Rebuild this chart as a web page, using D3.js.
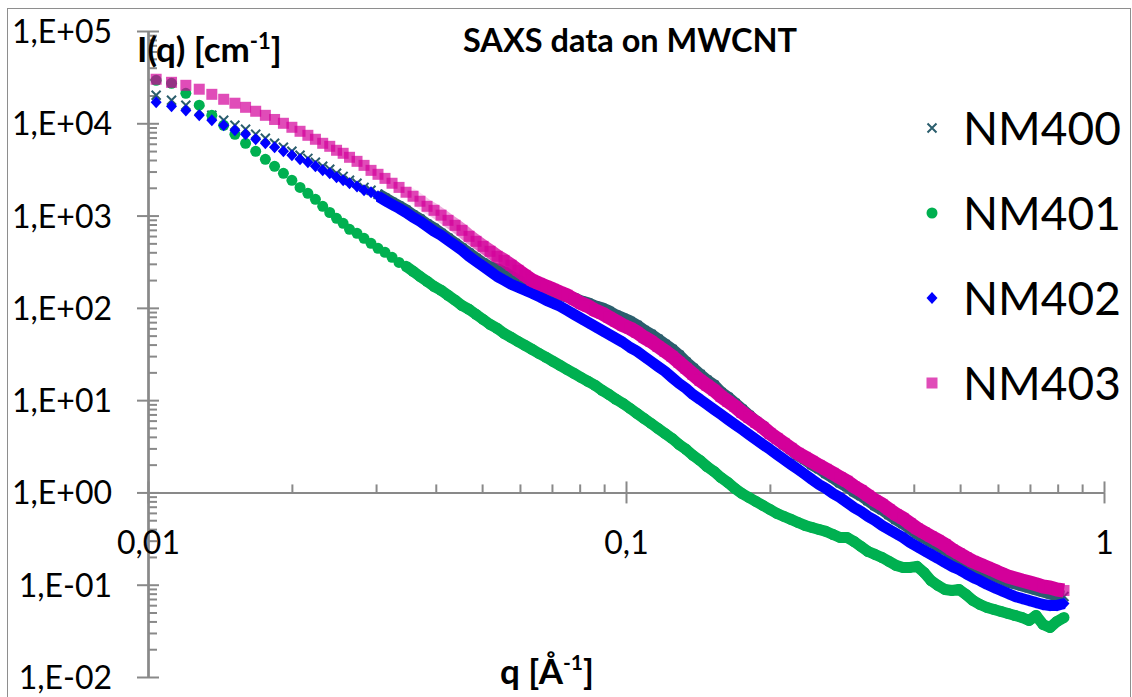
<!DOCTYPE html>
<html>
<head>
<meta charset="utf-8">
<script src="https://cdn.jsdelivr.net/npm/d3@7"></script>
<style>
  body { margin: 0; background: #fff; }
  text { font-family: Lato, "Open Sans", sans-serif; fill: #000; }
</style>
</head>
<body>
<div id="chart"></div>
<script>
// q [1/A]
var q = [0.0104, 0.0112, 0.0120, 0.0128, 0.0136, 0.0144, 0.0152, 0.0160, 0.0168, 0.0176,
  0.0184, 0.0192, 0.0200, 0.0208, 0.0216, 0.0224, 0.0232, 0.0240, 0.0248, 0.0256, 0.0264,
  0.02737, 0.02831, 0.02928, 0.03028, 0.03132, 0.03240, 0.03351, 0.03466, 0.03585, 0.03707,
  0.03835, 0.03966, 0.04103, 0.04243, 0.04389, 0.04539, 0.04695, 0.04856, 0.05023, 0.05195,
  0.05373, 0.05557, 0.05748, 0.05945, 0.06149, 0.06360, 0.06578, 0.06803, 0.07037, 0.07278,
  0.07527, 0.07785, 0.08052, 0.08328, 0.08614, 0.08909, 0.09215, 0.09531, 0.09858, 0.10196,
  0.10545, 0.10907, 0.11281, 0.11668, 0.12068, 0.12482, 0.12910, 0.13352, 0.13810, 0.14284,
  0.1477, 0.1528, 0.1580, 0.1634, 0.1690, 0.1748, 0.1808, 0.1870, 0.1934, 0.2001,
  0.2070, 0.2141, 0.2214, 0.2290, 0.2369, 0.2450, 0.2534, 0.2621, 0.2711, 0.2804,
  0.2900, 0.2999, 0.3102, 0.3209, 0.3319, 0.3433, 0.3550, 0.3672, 0.3798, 0.3928,
  0.4062, 0.4201, 0.4345, 0.4495, 0.4649, 0.4808, 0.4973, 0.5143, 0.5320, 0.5502,
  0.5692, 0.5887, 0.6089, 0.6298, 0.6514, 0.6737, 0.6968, 0.7207, 0.7455, 0.7710,
  0.7974, 0.8247];

// I(q) [1/cm]
var nm400 = [20100, 17800, 15700, 13800, 12200, 10800, 9510, 8610, 7600, 6880,
  6070, 5490, 4970, 4500, 4170, 3780, 3420, 3170, 2870, 2660, 2410,
  2240, 2020, 1880, 1700, 1540, 1390, 1260, 1140, 1010, 911,
  804, 727, 642, 567, 500, 442, 390, 344, 304, 275,
  261, 243, 219, 199, 180, 163, 155, 151, 144, 140,
  133, 127, 118, 112, 104, 98.8, 91.6, 82.9, 76.9, 71.4,
  64.6, 57.0, 51.6, 45.6, 40.2, 35.5, 30.6, 25.7, 22.1, 19.0,
  16.4, 14.5, 12.1, 10.7, 9.22, 7.94, 6.83, 5.88, 5.19, 4.36,
  3.85, 3.31, 2.93, 2.52, 2.28, 2.01, 1.82, 1.61, 1.45, 1.28,
  1.16, 1.025, 0.928, 0.819, 0.723, 0.654, 0.577, 0.510, 0.461, 0.407,
  0.359, 0.325, 0.294, 0.266, 0.241, 0.213, 0.193, 0.174, 0.158, 0.146,
  0.136, 0.126, 0.117, 0.108, 0.103, 0.0981, 0.0934, 0.0888, 0.0845, 0.0804,
  0.0765, 0.0746];

var nm401 = [29200, 27100, 21100, 15700, 12200, 9510, 7600, 6070, 4970, 4070,
  3420, 2870, 2410, 2020, 1740, 1500, 1260, 1080, 934, 824, 710,
  642, 567, 500, 442, 400, 353, 311, 282, 249, 219,
  194, 171, 155, 137, 121, 106, 96.3, 85.0, 75.0, 66.2,
  60.0, 52.9, 47.9, 43.3, 39.2, 35.5, 32.1, 29.1, 26.3, 23.8,
  21.5, 19.5, 17.6, 16.0, 14.5, 12.8, 11.5, 10.2, 9.22, 8.14,
  7.18, 6.34, 5.60, 4.94, 4.36, 3.85, 3.31, 2.93, 2.52, 2.22,
  1.91, 1.69, 1.45, 1.28, 1.105, 0.975, 0.883, 0.799, 0.723, 0.654,
  0.592, 0.549, 0.510, 0.473, 0.439, 0.417, 0.397, 0.378, 0.350, 0.325,
  0.325, 0.294, 0.260, 0.229, 0.213, 0.197, 0.179, 0.162, 0.154, 0.154,
  0.158, 0.136, 0.111, 0.0981, 0.0888, 0.0866, 0.0888, 0.0784, 0.0675, 0.0611,
  0.0567, 0.0539, 0.0513, 0.0488, 0.0464, 0.0442, 0.0410, 0.0464, 0.0371, 0.0344,
  0.0400, 0.0442];

var nm402 = [16900, 15300, 13800, 12200, 10800, 9510, 8400, 7600, 6710, 6070,
  5490, 4970, 4500, 4070, 3780, 3420, 3090, 2870, 2600, 2410, 2240,
  2070, 1880, 1790, 1620, 1460, 1320, 1200, 1080, 957, 866,
  765, 675, 611, 539, 476, 420, 362, 319, 282, 249,
  219, 199, 180, 167, 155, 144, 133, 121, 112, 104,
  94.0, 85.0, 76.9, 69.6, 63.0, 57.0, 51.6, 46.7, 42.3, 37.3,
  33.8, 29.8, 26.3, 23.2, 20.5, 17.6, 15.2, 13.4, 11.5, 10.2,
  8.99, 7.94, 7.01, 6.18, 5.46, 4.82, 4.25, 3.75, 3.31, 2.93,
  2.58, 2.28, 2.01, 1.78, 1.57, 1.38, 1.22, 1.105, 0.975, 0.883,
  0.779, 0.688, 0.622, 0.549, 0.497, 0.439, 0.397, 0.359, 0.325, 0.287,
  0.260, 0.235, 0.213, 0.193, 0.174, 0.158, 0.146, 0.132, 0.120, 0.111,
  0.101, 0.0934, 0.0866, 0.0804, 0.0746, 0.0710, 0.0675, 0.0642, 0.0611, 0.0596,
  0.0596, 0.0626];

var nm403 = [30000, 27800, 25800, 23400, 20600, 18200, 16500, 14900, 13500, 12200,
  11000, 10000, 9050, 8190, 7410, 6710, 6070, 5630, 5100, 4730, 4280,
  3870, 3500, 3090, 2800, 2530, 2240, 2020, 1790, 1620, 1430,
  1260, 1140, 1010, 888, 784, 692, 596, 526, 464, 410,
  362, 327, 289, 255, 225, 199, 184, 171, 159, 147,
  137, 124, 112, 104, 94.0, 87.2, 78.9, 71.4, 64.6, 60.0,
  54.2, 47.9, 43.3, 38.2, 33.8, 29.8, 25.7, 22.1, 19.0, 16.4,
  14.5, 12.8, 11.0, 9.69, 8.55, 7.37, 6.50, 5.74, 5.07, 4.36,
  3.85, 3.40, 3.00, 2.65, 2.40, 2.17, 1.96, 1.78, 1.61, 1.45,
  1.32, 1.16, 1.05, 0.928, 0.819, 0.741, 0.654, 0.577, 0.523, 0.461,
  0.407, 0.368, 0.333, 0.302, 0.273, 0.241, 0.218, 0.197, 0.179, 0.166,
  0.154, 0.143, 0.132, 0.123, 0.117, 0.111, 0.106, 0.101, 0.0957, 0.0934,
  0.0888, 0.0866];

var seriesNames = ["NM400", "NM401", "NM402", "NM403"];
var yTicks = [1e-2, 1e-1, 1, 10, 100, 1e3, 1e4, 1e5];
var yTickLabels = ["1,E-02", "1,E-01", "1,E+00", "1,E+01", "1,E+02", "1,E+03", "1,E+04", "1,E+05"];
var xTicks = [0.01, 0.1, 1];
var xTickLabels = ["0,01", "0,1", "1"];

var width = 1132, height = 697;
var axisColor = "#898989";

var svg = d3.select("#chart")
  .append("svg")
    .attr("width", width)
    .attr("height", height);

svg.append("rect")
  .attr("x", 7.5).attr("y", 8.5)
  .attr("width", 1123).attr("height", 720)
  .attr("fill", "#fff")
  .attr("stroke", "#8e8e8e")
  .attr("stroke-width", 1);

var x = d3.scaleLog().domain([0.01, 1]).range([148, 1104]);
var y = d3.scaleLog().domain([0.01, 1e5]).range([677, 31]);

// minor tick positions (2..9 in every decade)
var yMinor = [];
yTicks.slice(0, -1).forEach(function (d) {
  for (var k = 2; k < 10; k++) yMinor.push(d * k);
});
var xMinor = [];
xTicks.slice(0, -1).forEach(function (d) {
  for (var k = 2; k < 10; k++) xMinor.push(d * k);
});

function styleAxis(g) {
  g.selectAll("path, line").attr("stroke", axisColor).attr("stroke-width", 2);
  g.selectAll("text").style("font-size", "32px").attr("fill", "#000");
}

// y axis
var yAxis = svg.append("g")
  .attr("transform", "translate(148,0)")
  .call(d3.axisLeft(y).tickValues(yTicks)
    .tickFormat(function (d, i) { return yTickLabels[i]; })
    .tickSizeInner(11).tickSizeOuter(0).tickPadding(25));
yAxis.call(styleAxis);
yAxis.selectAll("text").attr("dy", "0.36em");

svg.append("g")
  .attr("transform", "translate(148,0)")
  .call(d3.axisRight(y).tickValues(yTicks).tickFormat("").tickSizeInner(11).tickSizeOuter(0))
  .call(styleAxis);
svg.append("g")
  .attr("transform", "translate(148,0)")
  .call(d3.axisRight(y).tickValues(yMinor).tickFormat("").tickSizeInner(9).tickSizeOuter(0))
  .call(styleAxis);

// x axis at I = 1
var xAxis = svg.append("g")
  .attr("transform", "translate(0," + y(1) + ")")
  .call(d3.axisBottom(x).tickValues(xTicks)
    .tickFormat(function (d, i) { return xTickLabels[i]; })
    .tickSizeInner(11).tickSizeOuter(0));
xAxis.call(styleAxis);
xAxis.selectAll("text").attr("y", 50).attr("dy", "0.36em");

svg.append("g")
  .attr("transform", "translate(0," + y(1) + ")")
  .call(d3.axisTop(x).tickValues(xTicks).tickFormat("").tickSizeInner(11).tickSizeOuter(0))
  .call(styleAxis);
svg.append("g")
  .attr("transform", "translate(0," + y(1) + ")")
  .call(d3.axisTop(x).tickValues(xMinor).tickFormat("").tickSizeInner(8).tickSizeOuter(0))
  .call(styleAxis);

// markers; "band" = width of the solid strip that the densely packed markers form,
// "from"/"full" = q where the markers start to merge into it / where it is solid
var markers = {
  NM400: { color: "#2b5e6d", band: 12, from: 0.030, full: 0.030, draw: function (g) {
    g.append("path").attr("d", "M-4.5,-4.5L4.5,4.5M-4.5,4.5L4.5,-4.5")
      .attr("stroke", "#2b5e6d").attr("stroke-width", 2).attr("fill", "none");
  } },
  NM401: { color: "#00b050", band: 11, from: 0.034, full: 0.034, draw: function (g) {
    g.append("circle").attr("r", 5.5).attr("fill", "#00b050");
  } },
  NM402: { color: "#0000ff", band: 11, from: 0.030, full: 0.030, draw: function (g) {
    g.append("path").attr("d", "M0,-6L5.5,0L0,6L-5.5,0Z").attr("fill", "#0000ff");
  } },
  NM403: { color: "#d3009a", band: 14, from: 0.034, full: 0.062, draw: function (g) {
    g.append("rect").attr("x", -5.5).attr("y", -5.5).attr("width", 11).attr("height", 11)
      .attr("fill", "#d3009a").attr("fill-opacity", 0.7);
  } }
};

var allSeries = [nm400, nm401, nm402, nm403];

var band = d3.line()
  .x(function (d) { return x(d[0]); })
  .y(function (d) { return y(d[1]); });

var defs = svg.append("defs");

allSeries.forEach(function (vals, si) {
  var name = seriesNames[si];
  var m = markers[name];
  var g = svg.append("g").attr("class", "series-" + name);

  var grad = defs.append("linearGradient")
    .attr("id", "fade-" + name)
    .attr("gradientUnits", "userSpaceOnUse")
    .attr("x1", x(m.from)).attr("x2", x(m.full) + 0.01)
    .attr("y1", 0).attr("y2", 0);
  grad.append("stop").attr("offset", 0).attr("stop-color", m.color).attr("stop-opacity", 0);
  grad.append("stop").attr("offset", 1).attr("stop-color", m.color).attr("stop-opacity", 1);

  var dense = vals.map(function (v, i) { return [q[i], v]; })
    .filter(function (d) { return d[0] >= m.from; });
  g.append("path")
    .datum(dense)
    .attr("d", band)
    .attr("fill", "none")
    .attr("stroke", "url(#fade-" + name + ")")
    .attr("stroke-width", m.band)
    .attr("stroke-linejoin", "round")
    .attr("stroke-linecap", "butt");

  var pts = g.selectAll("g")
    .data(vals)
    .enter()
    .append("g")
      .attr("transform", function (d, i) { return "translate(" + x(q[i]) + "," + y(d) + ")"; });
  pts.each(function () { m.draw(d3.select(this)); });
});

// legend
var legend = svg.append("g")
  .selectAll("g")
  .data(seriesNames)
  .enter()
  .append("g")
    .attr("transform", function (d, i) { return "translate(932," + (128 + i * 85) + ")"; });
legend.each(function (d) { markers[d].draw(d3.select(this)); });
legend.append("text")
  .attr("x", 31)
  .attr("dy", "0.36em")
  .style("font-size", "46px")
  .text(function (d) { return d; });

// title and axis labels
svg.append("text")
  .attr("x", 630).attr("y", 52)
  .attr("text-anchor", "middle")
  .style("font-size", "32.5px").style("font-weight", "bold")
  .text("SAXS data on MWCNT");

var yLab = svg.append("text")
  .attr("x", 137).attr("y", 62)
  .style("font-size", "35px").style("font-weight", "bold");
yLab.append("tspan").text("I(q) [cm");
yLab.append("tspan").attr("dy", -13).style("font-size", "22px").text("-1");
yLab.append("tspan").attr("dy", 13).text("]");

var xLab = svg.append("text")
  .attr("x", 500).attr("y", 684)
  .style("font-size", "35px").style("font-weight", "bold");
xLab.append("tspan").text("q [Å");
xLab.append("tspan").attr("dy", -14).style("font-size", "21px").text("-1");
xLab.append("tspan").attr("dy", 14).text("]");
</script>
</body>
</html>
